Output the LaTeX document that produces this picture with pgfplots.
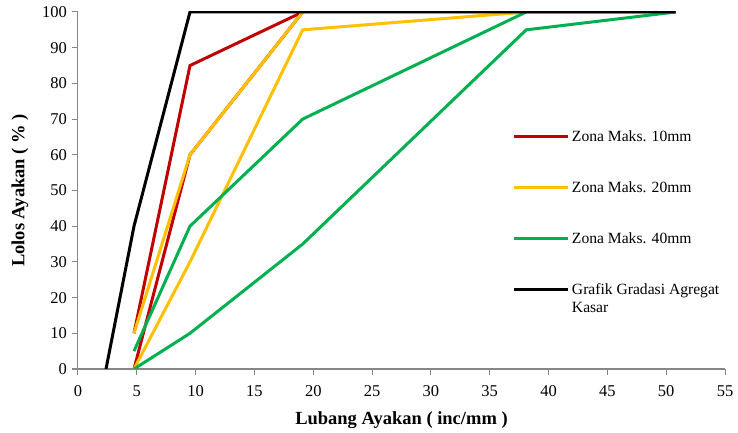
\documentclass[border=0pt]{standalone}
\usepackage{fontspec}
\setmainfont{Liberation Serif}
\usepackage{pgfplots}
\pgfplotsset{compat=1.18}
\definecolor{cred}{HTML}{C00000}
\definecolor{cyel}{HTML}{FFC000}
\definecolor{cgrn}{HTML}{00B050}
\definecolor{axgray}{HTML}{868686}
\begin{document}
\fontsize{15}{18}\selectfont
\begin{tikzpicture}
\begin{axis}[
  at={(0,0)}, anchor=south west,
  scale only axis, width=647pt, height=357pt,
  xmin=0, xmax=55, ymin=0, ymax=100,
  xtick={0,5,...,55}, ytick={0,10,...,100},
  axis lines=left,
  axis line style={-, draw=axgray, line width=1pt},
  tick align=outside, major tick length=6pt,
  tick style={draw=axgray, line width=1pt},
  /pgf/number format/assume math mode=true,
  ticklabel style={font=\fontsize{16.5}{18}\selectfont, text=black},
  xticklabel style={yshift=-5pt},
  xlabel={\textbf{Lubang Ayakan ( inc/mm )}},
  ylabel={\textbf{Lolos Ayakan ( \% )}},
  x label style={at={(axis description cs:0.5,0)}, anchor=center, yshift=-51pt, font=\fontsize{18.5}{20}\selectfont},
  y label style={at={(axis description cs:-0.0896,0.5)}, anchor=center, font=\fontsize{18.5}{20}\selectfont},
  legend style={at={(axis description cs:0.672,0.675)}, anchor=north west, draw=none, fill=none,
     row sep=34pt, inner sep=0pt, font=\fontsize{15.6}{18.5}\selectfont, cells={anchor=base west}},
  legend image code/.code={\draw[#1] (0pt,0.3em) -- (54pt,0.3em);},
  every axis plot/.append style={line width=3pt, line join=miter},
]
\addplot[cred] coordinates {(4.76,10) (9.52,85) (19.1,100)};
\addlegendentry{Zona Maks. 10mm}
\addplot[cred, forget plot] coordinates {(4.76,0) (9.52,60) (19.1,100)};
\addplot[cyel] coordinates {(4.76,10) (9.52,60) (19.1,100) (38.1,100)};
\addlegendentry{Zona Maks. 20mm}
\addplot[cyel, forget plot] coordinates {(4.76,0) (9.52,30) (19.1,95) (38.1,100)};
\addplot[cgrn] coordinates {(4.76,5) (9.52,40) (19.1,70) (38.1,100) (50.8,100)};
\addlegendentry{Zona Maks. 40mm}
\addplot[cgrn, forget plot] coordinates {(4.76,0) (9.52,10) (19.1,35) (38.1,95) (50.8,100)};
\addplot[black] coordinates {(2.38,0) (4.76,40) (9.52,100) (19.1,100) (38.1,100) (50.8,100)};
\addlegendentry{\parbox[t]{160pt}{Grafik Gradasi Agregat\\Kasar}}
\end{axis}
\pgfresetboundingbox
\useasboundingbox (-78pt,-64pt) rectangle (660pt,369pt);
\end{tikzpicture}
\end{document}
